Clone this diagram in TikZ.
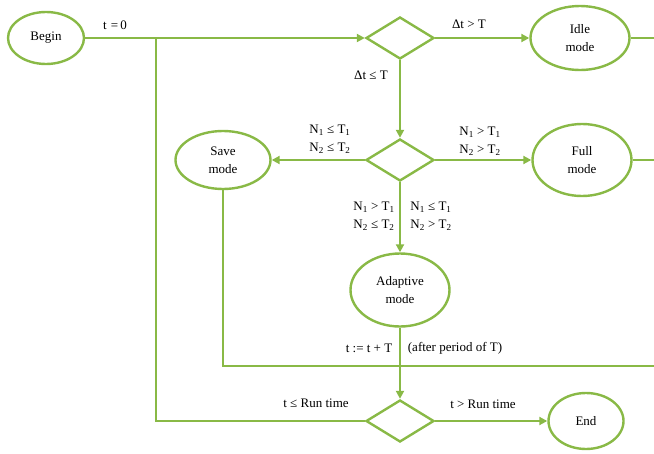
\documentclass[tikz,border=0pt]{standalone}
\usepackage{fontspec}
\setmainfont{Liberation Serif}
\usetikzlibrary{shapes.geometric,arrows.meta}
\definecolor{flowgreen}{RGB}{137,185,70}
\tikzset{
  x=1pt, y=-1pt,
  every node/.style={font=\fontsize{13}{18}\selectfont},
  state/.style={draw=flowgreen, line width=2.4pt, ellipse, inner sep=0pt, align=center},
  choice/.style={draw=flowgreen, line width=2.4pt, diamond, inner sep=0pt,
                 minimum width=68pt, minimum height=42pt},
  flow/.style={draw=flowgreen, line width=2pt},
  flowarrow/.style={flow, -{Triangle[length=8pt,width=8pt]}},
  lbl/.style={align=center, inner sep=0pt},
}
\newcommand{\Na}{N\textsubscript{1}}
\newcommand{\Nb}{N\textsubscript{2}}
\newcommand{\Ta}{T\textsubscript{1}}
\newcommand{\Tb}{T\textsubscript{2}}
\begin{document}
\begin{tikzpicture}
\useasboundingbox (0,0) rectangle (654,453);

% states
\node[state, minimum width=76pt, minimum height=52pt] (begin) at (46,38) {Begin};
\node[state, minimum width=99pt, minimum height=64pt] (idle) at (580,38) {Idle\\mode};
\node[state, minimum width=95pt, minimum height=58pt] (save) at (223,160) {Save\\mode};
\node[state, minimum width=99pt, minimum height=72pt] (full) at (582,160) {Full\\mode};
\node[state, minimum width=99pt, minimum height=73pt] (adapt) at (400,290) {Adaptive\\mode};
\node[state, minimum width=75pt, minimum height=56pt] (end) at (586,421) {End};

% decisions
\node[choice] (d1) at (400,38) {};
\node[choice] (d2) at (400,160) {};
\node[choice] (d3) at (400,421) {};

% helper points
\coordinate (j1) at (156,38);
\coordinate (idleout) at (656,38);
\coordinate (fullout) at (656,160);
\coordinate (loopout) at (656,366);

% connectors
\draw[flowarrow] (begin.east) -- (d1.west);
\draw[flowarrow] (d1.east) -- (idle.west);
\draw[flow] (idle.east) -- (idleout);
\draw[flowarrow] (d1.south) -- (d2.north);
\draw[flowarrow] (d2.west) -- (save.east);
\draw[flowarrow] (d2.east) -- (full.west);
\draw[flow] (full.east) -- (fullout);
\draw[flowarrow] (d2.south) -- (adapt.north);
\draw[flowarrow] (adapt.south) -- (d3.north);
\draw[flow] (save.south) -- (save.south |- loopout) -- (loopout);
\draw[flow] (d3.west) -| (j1);
\draw[flowarrow] (d3.east) -- (end.west);

% labels
\node[lbl] (l0) at (115,25) {t\,\,=\,0};
\node[lbl] (l1) at (469,24) {Δt > T};
\node[lbl] (l2) at (371,75) {Δt ≤ T};
\node[lbl] (l3) at (330,139) {\Na\ ≤ \Ta\\\Nb\ ≤ \Tb};
\node[lbl] (l4) at (480,141) {\Na\ > \Ta\\\Nb\ > \Tb};
\node[lbl] (l5) at (374,216) {\Na\ > \Ta\\\Nb\ ≤ \Tb};
\node[lbl] (l6) at (431,216) {\Na\ ≤ \Ta\\\Nb\ > \Tb};
\node[lbl] (l7) at (369,348) {t := t + T};
\node[lbl] (l8) at (455,348) {(after period of T)};
\node[lbl] (l9) at (316,403) {t ≤ Run time};
\node[lbl] (l10) at (483,404) {t > Run time};
\end{tikzpicture}
\end{document}
